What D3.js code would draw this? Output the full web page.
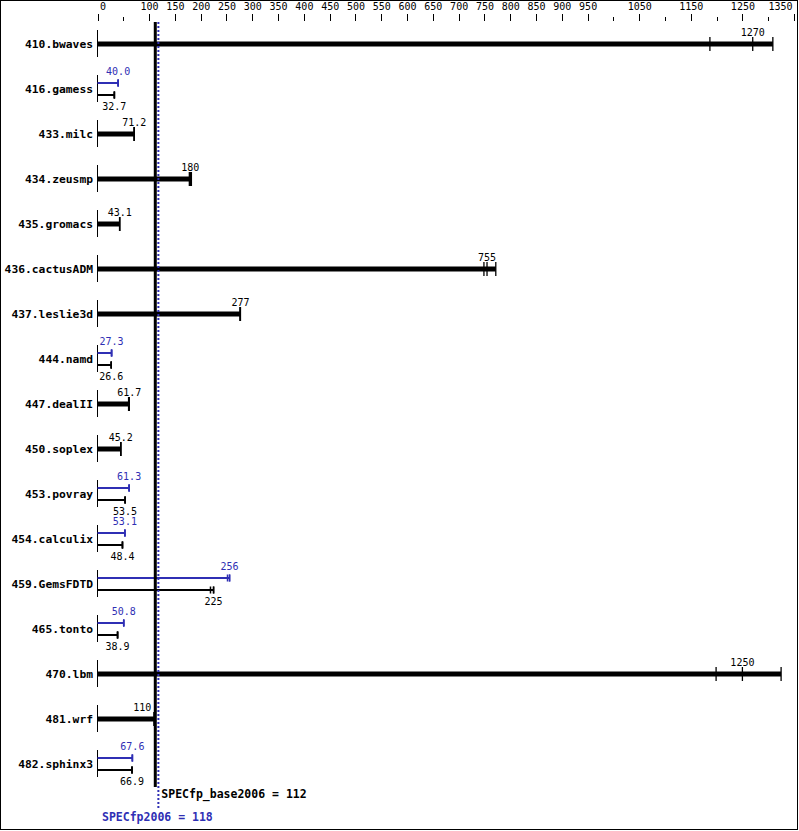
<!DOCTYPE html>
<html><head><meta charset="utf-8">
<script src="https://cdn.jsdelivr.net/npm/d3@7"></script>
<style>
body{margin:0;background:#fff;}
svg{display:block;}
text{font-family:"DejaVu Sans Mono",monospace;}
</style></head>
<body>
<script>
const benchmarks = ["410.bwaves","416.gamess","433.milc","434.zeusmp","435.gromacs","436.cactusADM","437.leslie3d","444.namd","447.dealII","450.soplex","453.povray","454.calculix","459.GemsFDTD","465.tonto","470.lbm","481.wrf","482.sphinx3"];
const baseScores = [1270, 32.7, 71.2, 180, 43.1, 755, 277, 26.6, 61.7, 45.2, 53.5, 48.4, 225, 38.9, 1250, 110, 66.9];
const baseMin    = [1187, 32.7, 70.8, 178, 42.7, 749, 276, 26.6, 60.2, 45.0, 53.5, 48.4, 219, 38.9, 1199, 109.5, 66.9];
const baseMax    = [1309, 32.7, 71.4, 182, 43.1, 772, 277, 26.6, 61.7, 45.2, 53.5, 48.4, 225, 38.9, 1325, 111, 66.9];
const peakScores = [null, 40.0, null, null, null, null, null, 27.3, null, null, 61.3, 53.1, 256, 50.8, null, null, 67.6];
const peakMin    = [null, 40.0, null, null, null, null, null, 27.3, null, null, 61.3, 53.1, 252, 50.8, null, null, 67.6];
const peakMax    = [null, 40.0, null, null, null, null, null, 27.3, null, null, 61.3, 53.1, 256, 50.8, null, null, 67.6];
const majorTicks = [0,100,150,200,250,300,350,400,450,500,550,600,650,700,750,800,850,900,950,1050,1150,1250,1350];
const minorTicks = [50,1000,1100,1200,1300];
const baseOverall = 112;
const peakOverall = 118;
const baseLabel = "SPECfp_base2006 = 112";
const peakLabel = "SPECfp2006 = 118";

const W = 799, H = 831;
const BLUE = "#2f2fb4";
const svg = d3.select("body").append("svg").attr("width", W).attr("height", H);

svg.append("rect").attr("x",0.5).attr("y",0.5).attr("width",797).attr("height",829)
  .attr("fill","#fff").attr("stroke","#000").attr("stroke-width",1);

const x = d3.scaleLinear().domain([0,1350]).range([97.5,794]);
const y = d3.scalePoint().domain(benchmarks).range([44,764]);

// axes
const axMaj = svg.append("g").attr("transform","translate(0,21)")
  .call(d3.axisTop(x).tickValues(majorTicks).tickSize(7).tickPadding(4).tickFormat(d3.format("d")));
const axMin = svg.append("g").attr("transform","translate(0,21)")
  .call(d3.axisTop(x).tickValues(minorTicks).tickSize(4).tickFormat(""));
[axMaj, axMin].forEach(a => {
  a.select(".domain").remove();
  a.selectAll("line").attr("stroke","#000").attr("shape-rendering","crispEdges");
  a.selectAll("text").attr("font-size","10px").attr("fill","#000").attr("font-family","DejaVu Sans Mono");
});
const dom = x.domain();
axMaj.selectAll(".tick text").each(function(d){
  const t = d3.select(this);
  if (d === dom[0]) t.attr("text-anchor","start").attr("x",2);
  if (d === dom[1]) t.attr("text-anchor","end").attr("x",-2);
});

const fmt = v => v >= 100 ? d3.format("d")(v) : d3.format(".1f")(v);
const refX = x(baseOverall);

const rows = svg.append("g");
benchmarks.forEach((b,i) => {
  const c = y(b);
  const g = rows.append("g");
  g.append("text").attr("x",93).attr("y",c+4).attr("text-anchor","end")
    .attr("font-size","11.3px").attr("font-weight","bold").attr("fill","#000").text(b);
  g.append("line").attr("x1",x(0)).attr("x2",x(0)).attr("y1",c-14).attr("y2",c+13)
    .attr("stroke","#000").attr("stroke-width",1).attr("shape-rendering","crispEdges");
  const placeLabel = (t, v, yy, color) => {
    let cx = x(v);
    const w = fmt(v).length * 6.02;
    let anchor = "middle";
    if (cx - w/2 < refX + 3 && cx + w/2 > refX - 3) { cx = refX - 4; anchor = "end"; }
    t.append("text").attr("x",cx).attr("y",yy).attr("text-anchor",anchor)
      .attr("font-size","10px").attr("fill",color).text(fmt(v));
  };
  if (peakScores[i] == null) {
    g.append("line").attr("x1",x(0)).attr("x2",x(baseMax[i])).attr("y1",c).attr("y2",c)
      .attr("stroke","#000").attr("stroke-width",5);
    [baseMin[i], baseScores[i], baseMax[i]].forEach(v => {
      g.append("line").attr("x1",x(v)).attr("x2",x(v)).attr("y1",c-7).attr("y2",c+7)
        .attr("stroke","#000").attr("stroke-width",1.3);
    });
    placeLabel(g, baseScores[i], c-8, "#000");
  } else {
    const cp = c-6, cb = c+6;
    g.append("line").attr("x1",x(0)).attr("x2",x(peakMax[i])).attr("y1",cp).attr("y2",cp)
      .attr("stroke",BLUE).attr("stroke-width",2);
    [peakMin[i], peakScores[i], peakMax[i]].forEach(v => {
      g.append("line").attr("x1",x(v)).attr("x2",x(v)).attr("y1",cp-3.5).attr("y2",cp+3.5)
        .attr("stroke",BLUE).attr("stroke-width",1.5);
    });
    g.append("line").attr("x1",x(0)).attr("x2",x(baseMax[i])).attr("y1",cb).attr("y2",cb)
      .attr("stroke","#000").attr("stroke-width",2);
    [baseMin[i], baseScores[i], baseMax[i]].forEach(v => {
      g.append("line").attr("x1",x(v)).attr("x2",x(v)).attr("y1",cb-3.5).attr("y2",cb+3.5)
        .attr("stroke","#000").attr("stroke-width",1.5);
    });
    placeLabel(g, peakScores[i], c-14, BLUE);
    placeLabel(g, baseScores[i], c+21, "#000");
  }
});

// reference lines
svg.append("line").attr("x1",refX).attr("x2",refX).attr("y1",22).attr("y2",787)
  .attr("stroke","#000").attr("stroke-width",3);
const pX = x(peakOverall);
svg.append("line").attr("x1",pX).attr("x2",pX).attr("y1",22).attr("y2",808)
  .attr("stroke",BLUE).attr("stroke-width",2).attr("stroke-dasharray","2,2");

svg.append("text").attr("x",refX+6).attr("y",798).attr("font-size","11.5px").attr("font-weight","bold")
  .attr("fill","#000").text(baseLabel);
svg.append("text").attr("x",102).attr("y",821).attr("font-size","11.5px").attr("font-weight","bold")
  .attr("fill",BLUE).text(peakLabel);
</script>
</body></html>
